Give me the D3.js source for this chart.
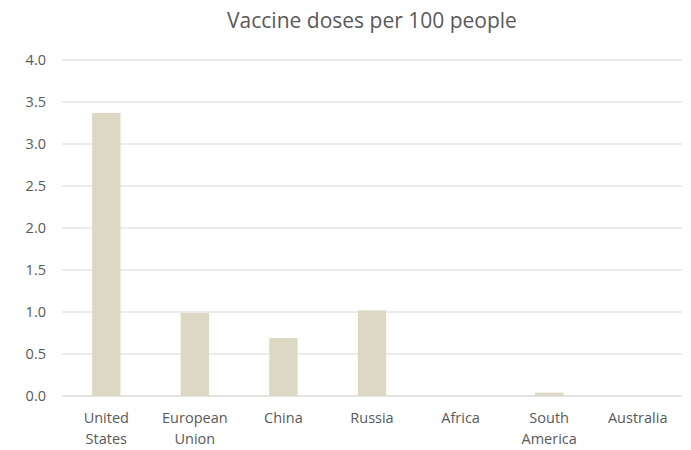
<!DOCTYPE html>
<html>
<head>
<meta charset="utf-8">
<script src="https://cdn.jsdelivr.net/npm/d3@7"></script>
<style>
  body { margin: 0; background: #fff; }
  text { font-family: "Open Sans", "Noto Sans", sans-serif; fill: #595959; }
</style>
</head>
<body>
<div id="chart"></div>
<script>
const regions = [["United", "States"], ["European", "Union"], ["China"], ["Russia"], ["Africa"], ["South", "America"], ["Australia"]];
const doses = [3.37, 0.99, 0.69, 1.02, 0, 0.04, 0];
const yTicks = [0, 0.5, 1, 1.5, 2, 2.5, 3, 3.5, 4];

const width = 691, height = 450;
const margin = { top: 60, right: 9, bottom: 54, left: 62 };

const svg = d3.select('#chart')
    .append('svg')
    .attr('width', width)
    .attr('height', height);

// Title, centred over the plot area
svg.append('text')
    .attr('x', (margin.left + width - margin.right) / 2)
    .attr('y', 28)
    .attr('text-anchor', 'middle')
    .style('font-size', '21px')
    .text('Vaccine doses per 100 people');

const names = regions.map(r => r.join(' '));

const x = d3.scaleBand()
    .domain(names)
    .range([margin.left, width - margin.right])
    .paddingInner(0.68)
    .paddingOuter(0.34);

const y = d3.scaleLinear()
    .domain([0, 4])
    .range([height - margin.bottom, margin.top]);

// Gridlines
svg.append('g')
    .selectAll('line')
    .data(yTicks)
    .join('line')
    .attr('x1', margin.left)
    .attr('x2', width - margin.right)
    .attr('y1', d => y(d))
    .attr('y2', d => y(d))
    .attr('stroke', '#d9d9d9')
    .attr('stroke-width', 1);

// Y tick labels
svg.append('g')
    .selectAll('text')
    .data(yTicks)
    .join('text')
    .attr('x', 46)
    .attr('y', d => y(d))
    .attr('dy', '0.35em')
    .attr('text-anchor', 'end')
    .style('font-size', '14.5px')
    .text(d => d3.format('.1f')(d));

// Bars
svg.append('g')
    .selectAll('rect')
    .data(doses)
    .join('rect')
    .attr('x', (d, i) => x(names[i]))
    .attr('y', d => y(d))
    .attr('width', x.bandwidth())
    .attr('height', d => y(0) - y(d))
    .attr('fill', '#ddd8c3');

// Redraw baseline above bars
svg.append('line')
    .attr('x1', margin.left)
    .attr('x2', width - margin.right)
    .attr('y1', y(0))
    .attr('y2', y(0))
    .attr('stroke', '#d9d9d9');

// X labels
const xl = svg.append('g')
    .selectAll('text')
    .data(regions)
    .join('text')
    .attr('x', (d, i) => x(names[i]) + x.bandwidth() / 2)
    .attr('y', 423)
    .attr('text-anchor', 'middle')
    .style('font-size', '14.5px');

xl.selectAll('tspan')
    .data(d => d)
    .join('tspan')
    .attr('x', function () { return this.parentNode.getAttribute('x'); })
    .attr('dy', (d, i) => i === 0 ? 0 : 21)
    .text(d => d);
</script>
</body>
</html>
